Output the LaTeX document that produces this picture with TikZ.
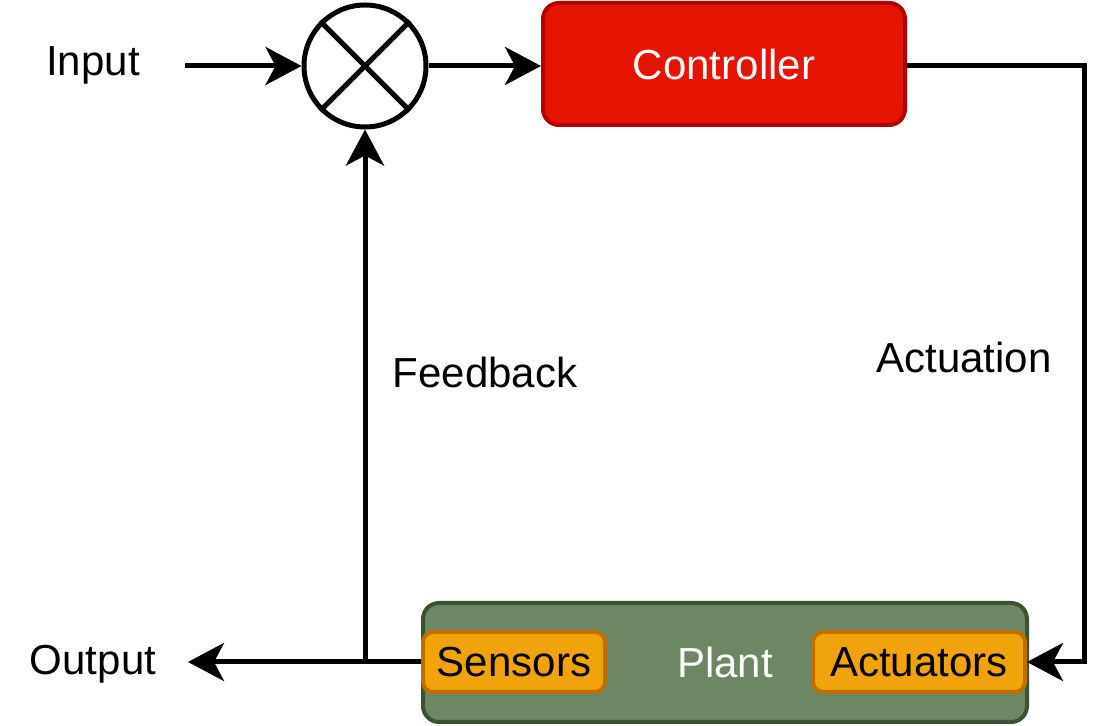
\documentclass[tikz,border=0pt]{standalone}
\usepackage{fontspec}
\setmainfont{Liberation Sans}
\usetikzlibrary{arrows.meta}
\definecolor{ctrlfill}{HTML}{E51400}
\definecolor{ctrldraw}{HTML}{B20000}
\definecolor{plantfill}{HTML}{6D8764}
\definecolor{plantdraw}{HTML}{3A5431}
\definecolor{partfill}{HTML}{F0A30A}
\definecolor{partdraw}{HTML}{BD7000}
\tikzset{
  sig/.style={line width=2.5pt,-{Stealth[length=18pt,width=19pt,inset=5pt]}},
  lbl/.style={font=\fontsize{21}{24}\selectfont},
  part/.style={draw=partdraw,fill=partfill,line width=2pt,rounded corners=5pt,
    minimum height=30pt,inner sep=0pt,font=\fontsize{21}{24}\selectfont}
}
\begin{document}
\begin{tikzpicture}[x=0.5pt,y=-0.5pt]
            \useasboundingbox (0,0) rectangle (1110,726);
            \node[lbl] (in) at (93,65) {Input};
            \node[lbl] (out) at (93,664) {Output};
            \node[circle,draw,line width=2.5pt,minimum size=61pt,inner sep=0pt] (sum) at (365,66) {};
            \draw[line width=2.5pt] (sum.north west)--(sum.south east) (sum.north east)--(sum.south west);
            \node[draw=ctrldraw,fill=ctrlfill,line width=2pt,rounded corners=8pt,
                minimum width=181pt,minimum height=61pt,text=white,lbl] (ctrl) at (724,64) {Controller};
            \node[draw=plantdraw,fill=plantfill,line width=2pt,rounded corners=8pt,
                minimum width=302pt,minimum height=59.5pt,text=white,lbl] (plant) at (725,662.5) {Plant};
            \node[part,minimum width=91pt] (sens) at (514,662) {Sensors};
            \node[part,minimum width=106pt] (act) at (919,662) {Actuators};
            \coordinate (inl) at (185,66);
            \coordinate (outl) at (188,662);
            \coordinate (fb) at (365,662);
            \coordinate (tr) at (1084,66);
            \coordinate (br) at (1084,662);
            \draw[sig] (inl) -- (sum.west);
            \draw[sig] (sum.east) -- (sum.east -| ctrl.west);
            \draw[sig] (ctrl.east |- tr) -- (tr) -- (br) -- (act.east);
            \draw[sig] (sens.west) -- (outl);
            \draw[sig] (fb) -- (sum.south);
            \node[lbl] (act lbl) at (964,357) {Actuation};
            \node[lbl] (fb lbl) at (485,372) {Feedback};
        \end{tikzpicture}
\end{document}
